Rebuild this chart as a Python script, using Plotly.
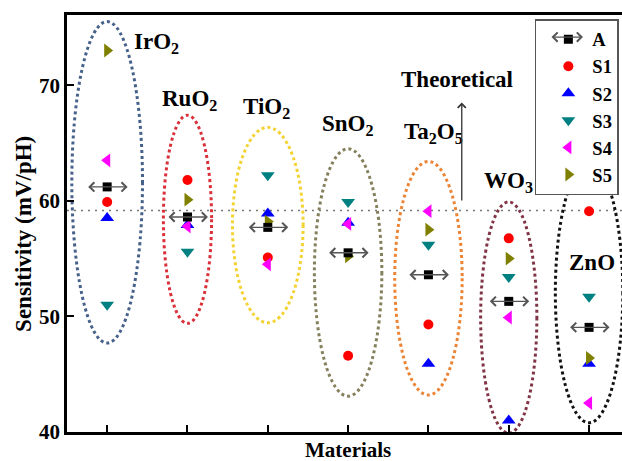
import plotly.graph_objects as go

# ---- data -------------------------------------------------------------
materials = ["IrO<sub>2</sub>", "RuO<sub>2</sub>", "TiO<sub>2</sub>", "SnO<sub>2</sub>",
             "Ta<sub>2</sub>O<sub>5</sub>", "WO<sub>3</sub>", "ZnO"]
positions = [1, 2, 3, 4, 5, 6, 7]

avg_a = [61.2, 58.6, 57.7, 55.5, 53.6, 51.3, 49.05]
s1 = [59.9, 61.8, 55.1, 46.6, 49.3, 56.75, 59.1]
s2 = [58.5, 57.9, 58.9, 58.1, 45.9, 41.0, 45.9]
s3 = [51.0, 55.6, 62.2, 59.9, 56.2, 53.4, 51.7]
s4 = [63.5, 57.8, 54.5, 58.0, 59.1, 49.9, 42.5]
s5 = [73.0, 60.1, 58.2, 55.2, 57.5, 55.0, 46.4]
theoretical = 59.16

# ---- styling / layout helpers ----------------------------------------
serif = "Liberation Serif"
series_style = [
    ("S1", s1, "circle", "#ff0000", 10),
    ("S2", s2, "triangle-up", "#0000ff", 12),
    ("S3", s3, "triangle-down", "#008080", 12),
    ("S4", s4, "triangle-left", "#ff00ff", 12),
    ("S5", s5, "triangle-right", "#808000", 12),
]

# dotted ellipses around each material group
ell_halfwidth = [0.44, 0.30, 0.44, 0.42, 0.42, 0.35, 0.42]
ell_top = [75.5, 67.4, 66.35, 64.5, 63.4, 59.9, 63.3]
ell_bottom = [47.7, 49.4, 49.45, 43.1, 43.2, 39.9, 40.8]
ell_colors = ["#46618a", "#d9303a", "#f3d232", "#85805c", "#ec8436", "#823447", "#111111"]

# material label placement
label_x = [1.62, 2.03, 2.98, 4.0, 5.06, 6.0, 7.04]
label_y = [73.65, 68.7, 68.0, 66.55, 65.9, 61.6, 54.7]

fig = go.Figure()

for name, vals, sym, col, size in series_style:
    fig.add_trace(go.Scatter(
        x=positions, y=vals, mode="markers", name=name,
        marker=dict(symbol=sym, color=col, size=size, line=dict(width=0)),
        legendrank=2,
    ))

fig.add_trace(go.Scatter(
    x=positions, y=avg_a, mode="markers", name="A",
    marker=dict(symbol="square", color="black", size=9),
    legendrank=1,
))

shapes = []
for cx, hw, top, bot, col in zip(positions, ell_halfwidth, ell_top, ell_bottom, ell_colors):
    shapes.append(dict(type="circle", xref="x", yref="y",
                       x0=cx - hw, x1=cx + hw, y0=bot, y1=top,
                       line=dict(color=col, width=3, dash="dot"), layer="below"))

# theoretical Nernst limit
shapes.append(dict(type="line", xref="x domain", yref="y", x0=0, x1=1,
                   y0=theoretical, y1=theoretical,
                   line=dict(color="#777777", width=1.5, dash="2px,5px"), layer="below"))

annotations = []
# double-headed arrows through the average markers
half_arrow = 0.255
for cx, v in zip(positions, avg_a):
    annotations.append(dict(x=cx + half_arrow, y=v, ax=cx - half_arrow, ay=v,
                            xref="x", yref="y", axref="x", ayref="y", text="",
                            showarrow=True, arrowside="end+start", arrowhead=4,
                            startarrowhead=4, arrowsize=1.3, startarrowsize=1.3,
                            arrowwidth=1.4, arrowcolor="#555555", standoff=0,
                            startstandoff=0))

label_font = dict(family=serif, size=23, color="black", weight="bold")
for txt, lx, ly in zip(materials, label_x, label_y):
    annotations.append(dict(x=lx, y=ly, xref="x", yref="y", text=txt, showarrow=False,
                            font=label_font))

annotations.append(dict(x=5.36, y=70.45, xref="x", yref="y", text="Theoretical",
                        showarrow=False, font=label_font))
annotations.append(dict(x=5.415, y=68.5, ax=5.415, ay=59.9, xref="x", yref="y",
                        axref="x", ayref="y", text="", showarrow=True, arrowhead=4,
                        arrowsize=1.2, arrowwidth=1.3, arrowcolor="#333333", standoff=0))

# axis titles
annotations.append(dict(x=4.0, y=-0.043, xref="x", yref="paper", text="Materials",
                        showarrow=False, yanchor="middle",
                        font=dict(family=serif, size=21, color="black", weight="bold")))
annotations.append(dict(x=-0.0775, y=0.475, xref="paper", yref="paper",
                        text="Sensitivity (mV/pH)", textangle=-90, showarrow=False,
                        xanchor="center", yanchor="middle",
                        font=dict(family=serif, size=23, color="black", weight="bold")))

# arrow on the legend's A entry
annotations.append(dict(x=0.9297, y=0.947, ax=-33, ay=0, xref="paper", yref="paper",
                        axref="pixel", ayref="pixel", text="", showarrow=True,
                        arrowside="end+start", arrowhead=4, startarrowhead=4,
                        arrowsize=1.3, startarrowsize=1.3, arrowwidth=1.4,
                        arrowcolor="#555555", standoff=0, startstandoff=0))

fig.update_layout(
    width=622, height=461,
    margin=dict(l=67, r=0, t=15, b=29),
    plot_bgcolor="white", paper_bgcolor="white",
    font=dict(family=serif, color="black"),
    shapes=shapes, annotations=annotations,
    legend=dict(x=0.843, y=0.99, xanchor="left", yanchor="top",
                bgcolor="white", bordercolor="#555555", borderwidth=1.5,
                font=dict(family=serif, size=18.5, weight="bold"),
                itemwidth=38, indentation=8, tracegroupgap=0),
    xaxis=dict(range=[0.5, 7.41], tickvals=positions, showticklabels=False,
               ticks="inside", ticklen=7, tickwidth=2, tickcolor="black",
               showline=True, linewidth=2.5, linecolor="black", mirror=True,
               showgrid=False, zeroline=False),
    yaxis=dict(range=[40, 76.07], tickvals=[40, 50, 60, 70],
               ticks="inside", ticklen=7, tickwidth=2, tickcolor="black",
               showline=True, linewidth=2.5, linecolor="black",
               showgrid=False, zeroline=False, ticklabelstandoff=0,
               tickfont=dict(family=serif, size=21, weight="bold")),
)

fig.write_html("out.html")
